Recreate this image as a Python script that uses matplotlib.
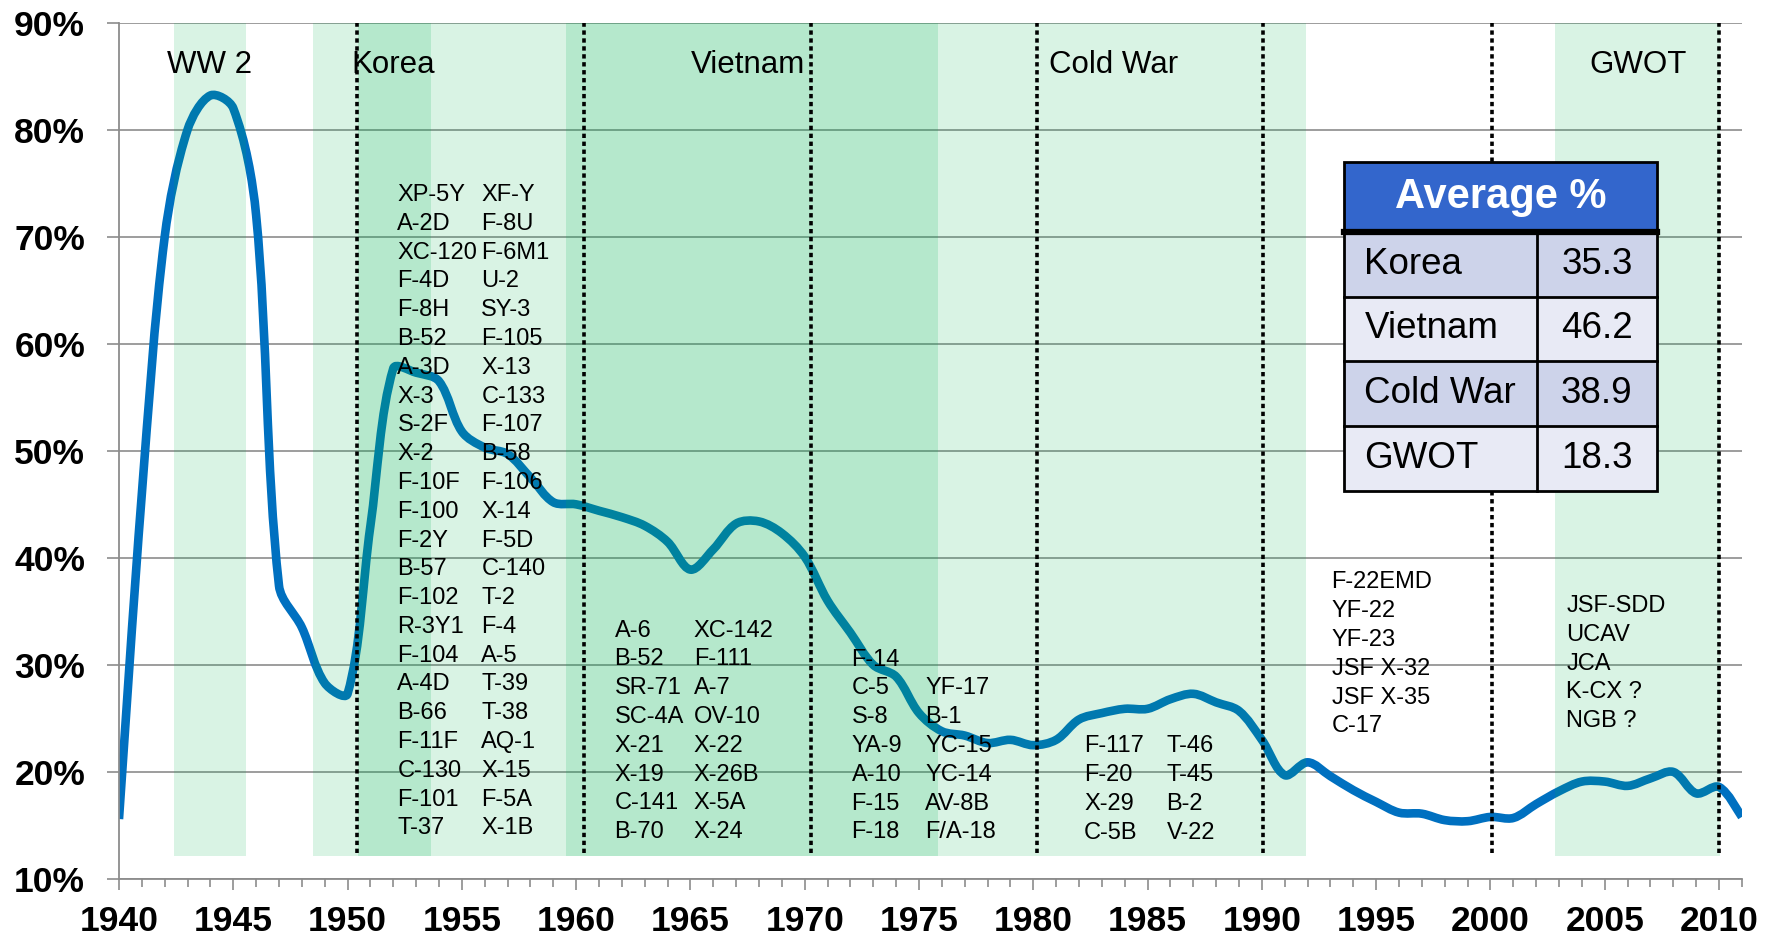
import matplotlib
matplotlib.use('Agg')
import matplotlib.pyplot as plt
from matplotlib.path import Path
from matplotlib.patches import PathPatch, Rectangle
from matplotlib.ticker import MultipleLocator, FuncFormatter
import numpy as np

plt.rcParams['font.family'] = ['Liberation Sans', 'DejaVu Sans']

# ---------------- data ----------------
years = list(range(1940, 2012))
percent = [15.6, 46.0, 70.0, 80.0, 83.2, 82.0, 72.0, 37.4, 33.5, 28.3,
           27.3, 43.0, 57.7, 57.3, 56.5, 51.8, 50.3, 49.7, 47.5, 45.2,
           45.0, 44.4, 43.8, 43.0, 41.5, 38.9, 40.8, 43.2, 43.4, 42.3,
           40.1, 36.0, 33.0, 30.0, 28.9, 25.5, 23.8, 23.4, 22.7, 23.0,
           22.5, 23.0, 24.9, 25.5, 25.9, 25.9, 26.8, 27.3, 26.5, 25.7,
           23.0, 19.7, 20.9, 19.6, 18.3, 17.2, 16.2, 16.1, 15.5, 15.4,
           15.8, 15.7, 17.0, 18.2, 19.1, 19.1, 18.7, 19.4, 20.0, 18.0,
           18.6, 15.8]

era_labels = ['WW 2', 'Korea', 'Vietnam', 'Cold War', 'GWOT']
era_label_x = [1943.96, 1951.99, 1967.5, 1983.5, 2006.45]

# shaded periods: (start, end, shade level)
band_start = [1942.42, 1948.5, 1950.45, 1953.67, 1959.56, 1975.82, 2002.83]
band_end   = [1945.57, 1950.45, 1953.67, 1959.56, 1975.82, 1991.95, 2010.05]
band_level = ['light', 'light', 'dark', 'light', 'dark', 'light', 'light']

decade_lines = [1950.43, 1960.35, 1970.27, 1980.17, 1990.07, 2000.08, 2010.0]

korea_col1 = ['XP-5Y', 'A-2D', 'XC-120', 'F-4D', 'F-8H', 'B-52', 'A-3D', 'X-3',
              'S-2F', 'X-2', 'F-10F', 'F-100', 'F-2Y', 'B-57', 'F-102', 'R-3Y1',
              'F-104', 'A-4D', 'B-66', 'F-11F', 'C-130', 'F-101', 'T-37']
korea_col2 = ['XF-Y', 'F-8U', 'F-6M1', 'U-2', 'SY-3', 'F-105', 'X-13', 'C-133',
              'F-107', 'B-58', 'F-106', 'X-14', 'F-5D', 'C-140', 'T-2', 'F-4',
              'A-5', 'T-39', 'T-38', 'AQ-1', 'X-15', 'F-5A', 'X-1B']
vietnam_col1 = ['A-6', 'B-52', 'SR-71', 'SC-4A', 'X-21', 'X-19', 'C-141', 'B-70']
vietnam_col2 = ['XC-142', 'F-111', 'A-7', 'OV-10', 'X-22', 'X-26B', 'X-5A', 'X-24']
seventies_col1 = ['F-14', 'C-5', 'S-8', 'YA-9', 'A-10', 'F-15', 'F-18']
seventies_col2 = ['', 'YF-17', 'B-1', 'YC-15', 'YC-14', 'AV-8B', 'F/A-18']
eighties_col1 = ['F-117', 'F-20', 'X-29', 'C-5B']
eighties_col2 = ['T-46', 'T-45', 'B-2', 'V-22']
nineties_col = ['F-22EMD', 'YF-22', 'YF-23', 'JSF X-32', 'JSF X-35', 'C-17']
gwot_col = ['JSF-SDD', 'UCAV', 'JCA', 'K-CX ?', 'NGB ?']

table_names = ['Korea', 'Vietnam', 'Cold War', 'GWOT']
table_values = [35.3, 46.2, 38.9, 18.3]

# ---------------- figure ----------------
fig = plt.figure(figsize=(17.76, 9.39), dpi=100)
ax = fig.add_axes([0.0670, 0.0639, 0.9138, 0.9120])
ax.set_xlim(1940, 2011)
ax.set_ylim(10, 90)

GRID = '#8c8c8c'
ax.set_axisbelow(True)
ax.yaxis.grid(True, color=GRID, lw=1.2, zorder=0.5)
for s in ['top', 'right']:
    ax.spines[s].set_visible(False)
for s in ['left', 'bottom']:
    ax.spines[s].set_color(GRID)
    ax.spines[s].set_linewidth(1.3)

ax.xaxis.set_major_locator(MultipleLocator(5))
ax.xaxis.set_minor_locator(MultipleLocator(1))
ax.yaxis.set_major_locator(MultipleLocator(10))
ax.yaxis.set_major_formatter(FuncFormatter(lambda v, p: f'{int(round(v))}%'))
ax.tick_params(axis='x', which='major', length=7.9, width=1.2, color=GRID,
               direction='out', pad=10.5, labelsize=25.5)
ax.tick_params(axis='x', which='minor', length=5.8, width=1.2, color=GRID,
               direction='out')
ax.tick_params(axis='y', which='major', length=8.4, width=1.2, color=GRID,
               direction='out', pad=16, labelsize=25.5)
for lab in ax.get_xticklabels() + ax.get_yticklabels():
    lab.set_fontweight('bold')

# smoothed line: Excel-style Bezier smoothing, control arms scaled by
# on-screen segment lengths
pts = np.column_stack([years, percent]).astype(float)
scr = ax.transData.transform(pts)
n = len(pts)
seg = np.hypot(*np.diff(scr, axis=0).T)


def d(i):
    return seg[min(max(i, 0), n - 2)]


verts = [tuple(pts[0])]
codes = [Path.MOVETO]
for i in range(n - 1):
    p0 = pts[max(i - 1, 0)]
    p1 = pts[i]
    p2 = pts[i + 1]
    p3 = pts[min(i + 2, n - 1)]
    d01 = d(i - 1) if i > 0 else 0.0
    d12 = d(i)
    d23 = d(i + 1) if i + 2 <= n - 1 else 0.0
    f1 = d12 / (d01 + d12) / 3.0 if i > 0 else 1 / 6.0
    f2 = d12 / (d12 + d23) / 3.0 if i + 2 <= n - 1 else 1 / 6.0
    c1 = p1 + (p2 - p0) * f1
    c2 = p2 - (p3 - p1) * f2
    verts += [tuple(c1), tuple(c2), tuple(p2)]
    codes += [Path.CURVE4] * 3
ax.add_patch(PathPatch(Path(verts, codes), facecolor='none', edgecolor='#0070c0',
                       lw=6.2, capstyle='butt', joinstyle='round', zorder=1))

# shaded bands (semi-transparent, over the line)
BAND_BOTTOM = 12.15
alpha_for = {'light': 0.15, 'dark': 0.29}
for x0, x1, lev in zip(band_start, band_end, band_level):
    ax.add_patch(Rectangle((x0, BAND_BOTTOM), x1 - x0, 90 - BAND_BOTTOM,
                           facecolor='#00b050', alpha=alpha_for[lev],
                           edgecolor='none', zorder=2))

for x in decade_lines:
    ax.plot([x, x], [12.4, 90], color='black', lw=2.6,
            linestyle=(0, (1.2, 1.0)), zorder=3, solid_capstyle='butt',
            dash_capstyle='butt')

for lbl, x in zip(era_labels, era_label_x):
    ax.text(x, 86.0, lbl, ha='center', va='center', fontsize=22.5, zorder=5)

ROW = 2.69
LIST_FS = 17


def draw_column(items, x, y_first):
    for k, t in enumerate(items):
        if t:
            ax.text(x, y_first - k * ROW, t, ha='left', va='center',
                    fontsize=LIST_FS, zorder=5)


draw_column(korea_col1, 1952.18, 73.9)
draw_column(korea_col2, 1955.85, 73.9)
draw_column(vietnam_col1, 1961.68, 33.2)
draw_column(vietnam_col2, 1965.15, 33.2)
draw_column(seventies_col1, 1972.05, 30.5)
draw_column(seventies_col2, 1975.28, 30.5)
draw_column(eighties_col1, 1982.22, 22.4)
draw_column(eighties_col2, 1985.83, 22.4)
draw_column(nineties_col, 1993.05, 37.7)
draw_column(gwot_col, 2003.32, 35.5)

# ---------------- table ----------------
tax = fig.add_axes([0.757, 0.4776, 0.176, 0.3498])
tax.set_xlim(0, 1)
tax.set_ylim(0, 1)
tax.axis('off')
hdr = 0.213
rowh = (1 - hdr) / 4
split = 0.6156
tax.add_patch(Rectangle((0, 1 - hdr), 1, hdr, fc='#3366cc', ec='none', clip_on=False))
tax.text(0.5, 1 - hdr / 2, 'Average %', ha='center', va='center', color='white',
         fontsize=30, fontweight='bold')
row_colors = ['#cdd3ea', '#e8eaf5']
for i, (name, val) in enumerate(zip(table_names, table_values)):
    y0 = 1 - hdr - (i + 1) * rowh
    tax.add_patch(Rectangle((0, y0), 1, rowh, fc=row_colors[i % 2], ec='none',
                            clip_on=False))
    tax.text(0.064, y0 + rowh / 2, name, ha='left', va='center', fontsize=26.5)
    tax.text((split + 1) / 2, y0 + rowh / 2, f'{val:.1f}', ha='center',
             va='center', fontsize=26.5)
    if i > 0:
        tax.plot([0, 1], [y0 + rowh, y0 + rowh], color='black', lw=2, clip_on=False)
tax.plot([split, split], [0, 1 - hdr], color='black', lw=2, clip_on=False)
tax.plot([0, 1], [1 - hdr, 1 - hdr], color='black', lw=4.5, clip_on=False)
tax.add_patch(Rectangle((0, 0), 1, 1, fc='none', ec='black', lw=2, clip_on=False))

fig.savefig('out.png', dpi=100)
